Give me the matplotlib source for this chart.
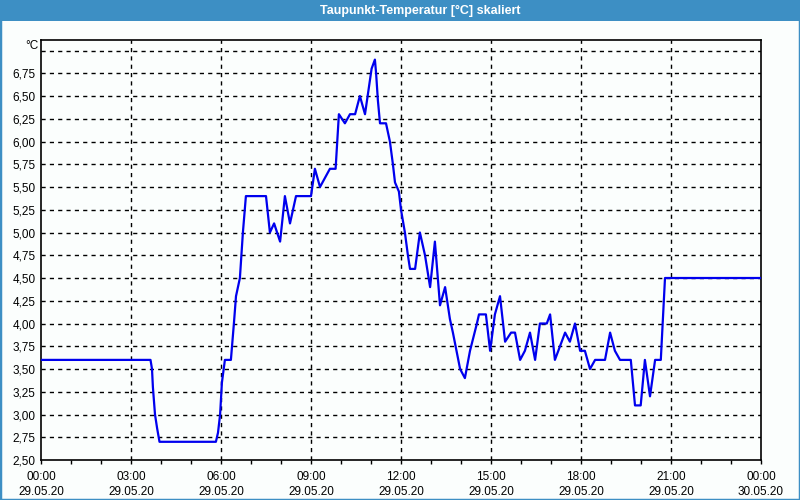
import matplotlib
matplotlib.use("Agg")
from matplotlib import pyplot as plt
from matplotlib.patches import Rectangle

# Stunden seit 29.05.20 00:00 und Taupunkt in °C
stunden = [0.0, 3.65, 3.70, 3.73, 3.80, 3.87, 3.95, 5.83, 5.90, 5.97, 6.03, 6.13, 6.33, 6.43,
           6.50, 6.63, 6.73, 6.83, 7.50, 7.63, 7.77, 7.97, 8.13, 8.30, 8.50, 9.00, 9.13,
           9.30, 9.63, 9.82, 9.93, 10.13, 10.30, 10.47, 10.63, 10.80, 11.02, 11.13, 11.17,
           11.23, 11.30, 11.50, 11.63, 11.73, 11.80, 11.93, 12.00, 12.13, 12.23, 12.30,
           12.47, 12.63, 12.80, 12.97, 13.13, 13.30, 13.47, 13.63, 13.73, 13.97, 14.13,
           14.30, 14.53, 14.60, 14.83, 14.97, 15.13, 15.30, 15.47, 15.67, 15.80, 15.97,
           16.13, 16.30, 16.47, 16.63, 16.86, 16.97, 17.13, 17.30, 17.47, 17.63, 17.80,
           17.97, 18.13, 18.30, 18.47, 18.80, 18.97, 19.13, 19.30, 19.66, 19.80, 19.99,
           20.13, 20.30, 20.47, 20.66, 20.80, 24.0]
taupunkt = [3.6, 3.6, 3.5, 3.3, 3.0, 2.85, 2.7, 2.7, 2.8, 3.0, 3.35, 3.6, 3.6, 4.0,
            4.3, 4.5, 5.0, 5.4, 5.4, 5.0, 5.1, 4.9, 5.4, 5.1, 5.4, 5.4, 5.7,
            5.5, 5.7, 5.7, 6.3, 6.2, 6.3, 6.3, 6.5, 6.3, 6.8, 6.9, 6.75,
            6.45, 6.2, 6.2, 6.0, 5.75, 5.55, 5.45, 5.25, 5.0, 4.75, 4.6,
            4.6, 5.0, 4.75, 4.4, 4.9, 4.2, 4.4, 4.05, 3.9, 3.5, 3.4,
            3.7, 4.0, 4.1, 4.1, 3.7, 4.1, 4.3, 3.8, 3.9, 3.9, 3.6,
            3.7, 3.9, 3.6, 4.0, 4.0, 4.1, 3.6, 3.75, 3.9, 3.8, 4.0,
            3.7, 3.7, 3.5, 3.6, 3.6, 3.9, 3.7, 3.6, 3.6, 3.1, 3.1,
            3.6, 3.2, 3.6, 3.6, 4.5, 4.5]

x_ticks = [0, 3, 6, 9, 12, 15, 18, 21, 24]
x_labels = ["00:00\n29.05.20", "03:00\n29.05.20", "06:00\n29.05.20", "09:00\n29.05.20",
            "12:00\n29.05.20", "15:00\n29.05.20", "18:00\n29.05.20", "21:00\n29.05.20",
            "00:00\n30.05.20"]
y_ticks = [2.5, 2.75, 3.0, 3.25, 3.5, 3.75, 4.0, 4.25, 4.5, 4.75, 5.0, 5.25, 5.5, 5.75,
           6.0, 6.25, 6.5, 6.75]

plt.rcParams['font.family'] = ['Liberation Sans', 'DejaVu Sans']
W, H = 800, 500
fig = plt.figure(figsize=(8, 5), dpi=100, facecolor='#FBFEFD')

# Fensterrahmen und Titelleiste
blau = '#3D8FC4'
fig.patches.append(Rectangle((0, 0), 1, 1, transform=fig.transFigure, fill=False,
                             edgecolor=blau, linewidth=2.5))
fig.patches.append(Rectangle((0, 1 - 21 / H), 1, 21 / H, transform=fig.transFigure,
                             facecolor=blau, edgecolor='none'))
fig.text(420 / W, 1 - 11 / H, 'Taupunkt-Temperatur [°C] skaliert', color='white',
         fontsize=9, fontweight='bold', ha='center', va='center')

ax = fig.add_axes([41 / W, 40 / H, 720 / W, 420 / H])
ax.set_facecolor('#FBFEFD')
ax.plot(stunden, taupunkt, color='#0000EE', linewidth=1.6, zorder=3)

ax.set_xlim(0, 24)
ax.set_ylim(2.5, 2.5 + 420 / 91)
ax.set_xticks(x_ticks)
ax.set_xticklabels(x_labels, fontsize=8.5, linespacing=1.35)
ax.set_xticks(range(25), minor=True)
ax.set_yticks(y_ticks)
ax.set_yticklabels([f'{v:.2f}'.replace('.', ',') for v in y_ticks], fontsize=8.5)
ax.tick_params(axis='x', which='both', direction='out', length=3, width=1, pad=5)
ax.tick_params(axis='y', length=0, pad=4)

for v in y_ticks[1:] + [7.0]:
    ax.axhline(v, color='black', linewidth=1, linestyle=(0, (3, 3)), zorder=1)
for h in x_ticks[1:-1]:
    ax.axvline(h, color='black', linewidth=1, linestyle=(0, (3, 3)), zorder=1)
for s in ax.spines.values():
    s.set_linewidth(1.2)

fig.text(25 / W, 1 - 46 / H, '°C', fontsize=8.5, va='center', ha='left')

fig.savefig('out.png', dpi=100, facecolor=fig.get_facecolor())
